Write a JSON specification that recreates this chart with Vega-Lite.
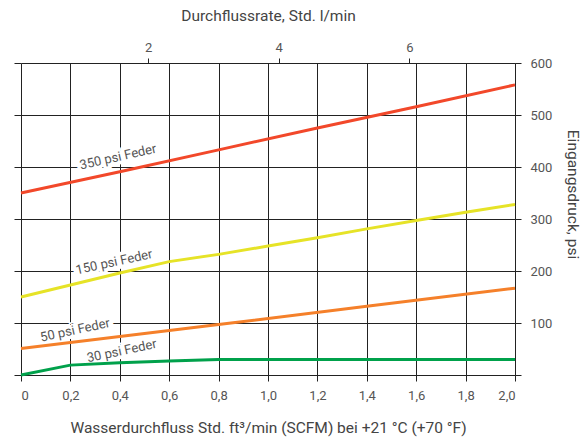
{
  "$schema": "https://vega.github.io/schema/vega-lite/v6.json",
  "width": 494,
  "height": 312,
  "autosize": {"type": "none"},
  "padding": {"left": 21, "top": 63, "right": 72, "bottom": 66},
  "config": {
    "font": "Roboto",
    "view": {"stroke": null},
    "axis": {
      "gridColor": "#222222",
      "gridOpacity": 1,
      "gridWidth": 1,
      "tickColor": "#222222",
      "tickWidth": 1,
      "domainColor": "#222222",
      "labelColor": "#555555",
      "titleColor": "#444444",
      "labelFontSize": 13,
      "titleFontSize": 15.5,
      "titleFontWeight": "normal",
      "labelFont": "Roboto",
      "titleFont": "Roboto"
    }
  },
  "datasets": {
    "curves": [
      {"flow": 0, "psi": 350, "series": "350 psi"},
      {"flow": 0.4, "psi": 391, "series": "350 psi"},
      {"flow": 0.8, "psi": 433, "series": "350 psi"},
      {"flow": 1.2, "psi": 475, "series": "350 psi"},
      {"flow": 1.6, "psi": 516, "series": "350 psi"},
      {"flow": 2.0, "psi": 558, "series": "350 psi"},
      {"flow": 0, "psi": 150, "series": "150 psi"},
      {"flow": 0.2, "psi": 173, "series": "150 psi"},
      {"flow": 0.4, "psi": 196, "series": "150 psi"},
      {"flow": 0.6, "psi": 218, "series": "150 psi"},
      {"flow": 0.8, "psi": 232, "series": "150 psi"},
      {"flow": 1.0, "psi": 248, "series": "150 psi"},
      {"flow": 1.2, "psi": 264, "series": "150 psi"},
      {"flow": 1.4, "psi": 281, "series": "150 psi"},
      {"flow": 1.6, "psi": 297, "series": "150 psi"},
      {"flow": 1.8, "psi": 313, "series": "150 psi"},
      {"flow": 2.0, "psi": 328, "series": "150 psi"},
      {"flow": 0, "psi": 51, "series": "50 psi"},
      {"flow": 0.8, "psi": 97, "series": "50 psi"},
      {"flow": 1.4, "psi": 132, "series": "50 psi"},
      {"flow": 2.0, "psi": 167, "series": "50 psi"},
      {"flow": 0, "psi": 0, "series": "30 psi"},
      {"flow": 0.2, "psi": 19, "series": "30 psi"},
      {"flow": 0.4, "psi": 23.5, "series": "30 psi"},
      {"flow": 0.6, "psi": 27, "series": "30 psi"},
      {"flow": 0.8, "psi": 30, "series": "30 psi"},
      {"flow": 2.0, "psi": 30, "series": "30 psi"}
    ],
    "labels": [
      {"flow": 0.393, "psi": 419, "label": "350 psi Feder"},
      {"flow": 0.377, "psi": 217, "label": "150 psi Feder"},
      {"flow": 0.219, "psi": 86, "label": "50 psi Feder"},
      {"flow": 0.408, "psi": 46, "label": "30 psi Feder"}
    ],
    "lpm": [{"lpm": 0.05}, {"lpm": 7.62}]
  },
  "layer": [
    {
      "data": {"name": "labels"},
      "mark": {"type": "text", "fontSize": 13, "font": "Roboto", "stroke": "white", "strokeWidth": 7, "fill": "white", "align": "center", "baseline": "middle"},
      "encoding": {
        "x": {"field": "flow", "type": "quantitative", "scale": {"domain": [0, 2], "nice": false}, "axis": null},
        "y": {"field": "psi", "type": "quantitative", "scale": {"domain": [0, 600], "nice": false},
          "axis": {"orient": "left", "values": [0, 100, 200, 300, 400, 500, 600], "labels": false, "domain": false, "grid": false, "ticks": true, "tickSize": 7, "title": null}},
        "text": {"field": "label"},
        "angle": {"field": "label", "type": "nominal", "scale": {"domain": ["350 psi Feder", "150 psi Feder", "50 psi Feder", "30 psi Feder"], "range": [347.5, 348, 353, 356]}, "legend": null}
      }
    },
    {
      "data": {"name": "curves"},
      "mark": {"type": "line", "strokeWidth": 3},
      "encoding": {
        "x": {"field": "flow", "type": "quantitative", "scale": {"domain": [0, 2], "nice": false},
          "axis": {"orient": "bottom", "values": [0, 0.2, 0.4, 0.6, 0.8, 1.0, 1.2, 1.4, 1.6, 1.8, 2.0], "grid": true, "domain": false, "tickSize": 6, "labelPadding": 8,
            "labelExpr": "datum.value == 0 ? '0' : replace(format(datum.value, '.1f'), '.', ',')",
            "title": "Wasserdurchfluss Std. ft³/min (SCFM) bei +21 °C (+70 °F)", "titleY": 52, "titleBaseline": "middle"}},
        "y": {"field": "psi", "type": "quantitative", "scale": {"domain": [0, 600], "nice": false},
          "axis": {"orient": "right", "values": [0, 100, 200, 300, 400, 500, 600], "grid": true, "domain": true, "tickSize": 6, "labelPadding": 9,
            "labelExpr": "datum.value == 0 ? '' : datum.label",
            "title": "Eingangsdruck, psi", "titleAngle": 90, "titleX": 57, "titleY": 131, "titleBaseline": "middle", "titleAlign": "center"}},
        "color": {"field": "series", "type": "nominal", "scale": {"domain": ["350 psi", "150 psi", "50 psi", "30 psi"], "range": ["#f2482a", "#e6e327", "#f5802a", "#00a14b"]}, "legend": null},
        "order": {"field": "flow", "type": "quantitative"}
      }
    },
    {
      "data": {"name": "labels"},
      "mark": {"type": "text", "fontSize": 13, "font": "Roboto", "fill": "#555555", "align": "center", "baseline": "middle"},
      "encoding": {
        "x": {"field": "flow", "type": "quantitative", "scale": {"domain": [0, 2], "nice": false}, "axis": null},
        "y": {"field": "psi", "type": "quantitative", "scale": {"domain": [0, 600], "nice": false}, "axis": null},
        "text": {"field": "label"},
        "angle": {"field": "label", "type": "nominal", "scale": {"domain": ["350 psi Feder", "150 psi Feder", "50 psi Feder", "30 psi Feder"], "range": [347.5, 348, 353, 356]}, "legend": null}
      }
    },
    {
      "data": {"name": "lpm"},
      "mark": {"type": "point", "opacity": 0},
      "encoding": {
        "x": {"field": "lpm", "type": "quantitative", "scale": {"domain": [0.05, 7.62], "nice": false, "zero": false},
          "axis": {"orient": "top", "values": [2, 4, 6], "grid": false, "domain": false, "tickSize": 5, "labelPadding": 4,
            "title": "Durchflussrate, Std. l/min", "titleY": -48, "titleBaseline": "middle"}}
      }
    }
  ],
  "resolve": {"scale": {"x": "independent"}, "axis": {"x": "independent", "y": "independent"}}
}
